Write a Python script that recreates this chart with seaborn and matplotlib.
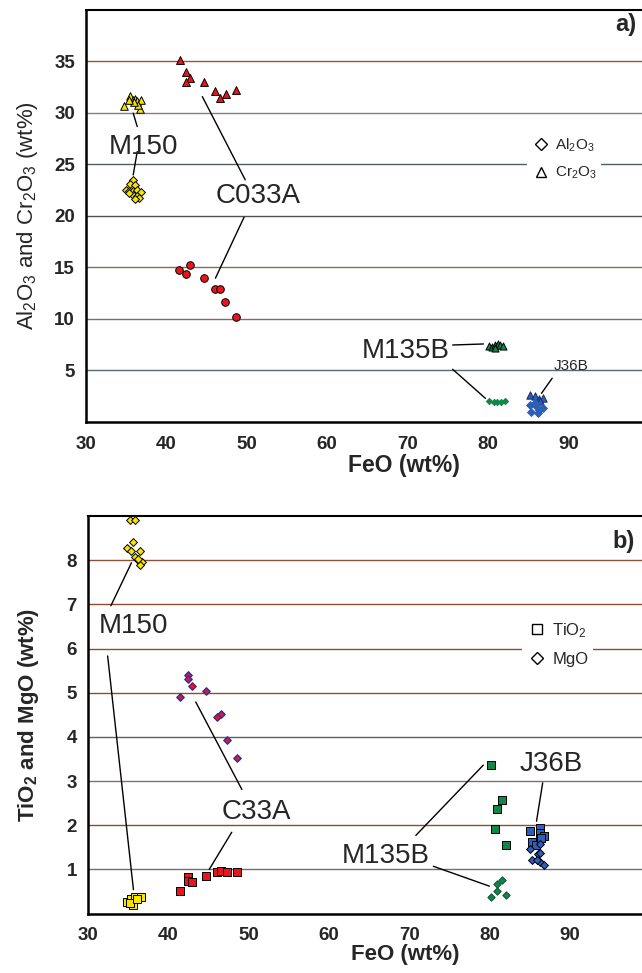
import matplotlib
matplotlib.use("Agg")
import matplotlib.pyplot as plt
import seaborn as sns
import pandas as pd
from matplotlib.lines import Line2D

# --- panel a: Al2O3 / Cr2O3 vs FeO ---
m150_cr_feo = [34.7, 35.5, 35.8, 36.1, 36.4, 36.8, 36.7, 36.5, 36.0, 35.3]
m150_cr = [30.7, 31.6, 31.3, 31.4, 31.2, 31.3, 30.4, 30.8, 31.1, 31.3]
m150_al_feo = [35.9, 35.5, 36.1, 35.0, 35.4, 35.9, 36.4, 36.8, 35.8, 36.3, 36.6, 36.1, 35.3]
m150_al = [23.5, 23.1, 23.0, 22.5, 22.4, 22.4, 22.5, 22.3, 22.0, 21.9, 21.7, 21.6, 22.2]
c033a_cr_feo = [41.7, 42.5, 42.9, 42.5, 44.7, 46.0, 46.7, 47.4, 48.7]
c033a_cr = [35.1, 34.0, 33.4, 33.0, 33.0, 32.1, 31.5, 31.8, 32.2]
c033a_al_feo = [41.6, 42.5, 42.9, 44.7, 46.0, 46.7, 47.3, 48.7]
c033a_al = [14.7, 14.4, 15.2, 14.0, 12.9, 12.9, 11.6, 10.2]
m135b_cr_feo = [80.1, 80.5, 80.9, 81.2, 81.5, 81.9, 80.9]
m135b_cr = [7.4, 7.3, 7.5, 7.6, 7.5, 7.4, 7.2]
m135b_al_feo = [80.1, 80.7, 81.1, 81.6, 82.1]
m135b_al = [2.0, 1.95, 1.95, 1.95, 2.0]
j36b_cr_feo = [85.2, 85.9, 86.3, 86.8, 86.5]
j36b_cr = [2.6, 2.5, 2.2, 2.3, 2.0]
j36b_al_feo = [85.3, 85.4, 86.0, 86.4, 86.8, 85.8, 86.2]
j36b_al = [1.6, 1.0, 1.5, 1.1, 1.3, 1.8, 0.9]

# --- panel b: TiO2 / MgO vs FeO ---
m150_mg_feo = [35.2, 35.8, 35.6, 34.8, 35.4, 36.5, 35.9, 36.4, 36.7, 36.5, 36.2]
m150_mg = [8.9, 8.9, 8.41, 8.27, 8.2, 8.2, 8.08, 7.99, 7.95, 7.88, 8.03]
m150_ti_feo = [34.8, 35.4, 35.9, 36.6, 35.6, 35.2, 36.1]
m150_ti = [0.27, 0.33, 0.37, 0.38, 0.2, 0.24, 0.32]
c33a_mg_feo = [42.4, 42.4, 42.9, 41.5, 44.7, 46.0, 46.6, 47.3, 48.6]
c33a_mg = [5.4, 5.31, 5.14, 4.9, 5.04, 4.45, 4.51, 3.92, 3.51]
c33a_ti_feo = [41.5, 42.4, 42.4, 43.0, 44.7, 46.0, 46.6, 47.3, 48.6]
c33a_ti = [0.52, 0.82, 0.73, 0.71, 0.85, 0.94, 0.96, 0.94, 0.94]
m135b_ti_feo = [80.1, 81.5, 80.9, 80.7, 82.0]
m135b_ti = [3.36, 2.57, 2.37, 1.92, 1.56]
m135b_mg_feo = [80.1, 80.9, 81.5, 80.9, 82.0]
m135b_mg = [0.38, 0.68, 0.77, 0.51, 0.41]
j36b_ti_feo = [85.0, 85.2, 86.3, 86.2, 86.7, 85.8, 86.4]
j36b_ti = [1.87, 1.62, 1.94, 1.83, 1.75, 1.56, 1.72]
j36b_mg_feo = [85.0, 85.2, 86.0, 86.2, 86.3, 86.7, 85.9, 86.3]
j36b_mg = [1.47, 1.22, 1.34, 1.36, 1.16, 1.09, 1.22, 1.58]

xticks = [30, 40, 50, 60, 70, 80, 90]
yticks_a = [5, 10, 15, 20, 25, 30, 35]
yticks_b = [1, 2, 3, 4, 5, 6, 7, 8]

yellow, red, green, blue = "#f7e400", "#e8161c", "#12864a", "#2d5fb8"

sns.set_style("white")
plt.rcParams["font.family"] = ["Liberation Sans", "DejaVu Sans"]
plt.rcParams["mathtext.default"] = "regular"

fig = plt.figure(figsize=(6.42, 9.73), dpi=100)
# the original axes run past the right edge of the picture (cropped)
ax_a = fig.add_axes([0.134, 0.5665, 0.989, 0.4232])
ax_b = fig.add_axes([0.137, 0.0611, 0.989, 0.4086])


def pts(ax, x, y, marker, color, s, edge="black", lw=0.7):
    sns.scatterplot(x=x, y=y, ax=ax, marker=marker, color=color, s=s,
                    edgecolor=edge, linewidth=lw, legend=False, zorder=3)


# panel a points
pts(ax_a, m150_cr_feo, m150_cr, "^", yellow, 30)
pts(ax_a, m150_al_feo, m150_al, "D", yellow, 16)
pts(ax_a, c033a_cr_feo, c033a_cr, "^", red, 32)
pts(ax_a, c033a_al_feo, c033a_al, "o", red, 30)
pts(ax_a, m135b_cr_feo, m135b_cr, "^", green, 26)
pts(ax_a, m135b_al_feo, m135b_al, "D", green, 10, edge=green)
pts(ax_a, j36b_cr_feo, j36b_cr, "^", blue, 28, edge="#1a2a60")
pts(ax_a, j36b_al_feo, j36b_al, "D", blue, 16, edge=blue)

# panel b points
pts(ax_b, m150_mg_feo, m150_mg, "D", yellow, 16)
pts(ax_b, m150_ti_feo, m150_ti, "s", yellow, 30)
pts(ax_b, c33a_mg_feo, c33a_mg, "D", red, 14, edge="#3a2a9a", lw=1.0)
pts(ax_b, c33a_ti_feo, c33a_ti, "s", red, 30)
pts(ax_b, m135b_ti_feo, m135b_ti, "s", green, 28)
pts(ax_b, m135b_mg_feo, m135b_mg, "D", green, 14, edge="#0a5030")
pts(ax_b, j36b_ti_feo, j36b_ti, "s", blue, 32)
pts(ax_b, j36b_mg_feo, j36b_mg, "D", blue, 16)

# sample labels and leader lines
labels_a = [("M150", 37.15, 26.7, 20), ("C033A", 51.4, 21.9, 20),
            ("M135B", 69.8, 6.9, 20), ("J36B", 90.4, 5.4, 11)]
leaders_a = [(35.87, 29.98, 36.37, 28.68), (36.37, 26.25, 35.87, 23.98),
             (44.47, 31.59, 49.81, 23.5), (49.66, 19.87, 46.1, 13.95),
             (75.62, 7.46, 79.44, 7.56), (75.62, 5.1, 79.69, 2.28),
             (88.0, 4.23, 86.67, 2.77)]
labels_b = [("M150", 35.66, 6.51, 20), ("C33A", 50.9, 2.3, 20),
            ("M135B", 67.0, 1.3, 20), ("J36B", 87.7, 3.38, 20)]
leaders_b = [(32.86, 6.97, 35.41, 7.94), (32.45, 5.83, 35.66, 0.54),
             (43.41, 4.79, 49.15, 2.81), (47.89, 1.84, 45.09, 1.0),
             (70.8, 1.77, 79.19, 3.36), (72.97, 1.07, 79.95, 0.62),
             (86.58, 2.96, 85.81, 2.09)]

grid_a = ["#5a6a6a", "#8a6a60", "#8a6a60", "#505050", "#506060", "#8a7f78", "#a0503c"]
grid_b = ["#707070", "#904a30", "#807070", "#606060", "#904a30", "#904a30", "#904a30", "#8a5040"]

for ax, ylim, yt, gcols, labels, leaders in [
        (ax_a, (0, 40), yticks_a, grid_a, labels_a, leaders_a),
        (ax_b, (0, 9), yticks_b, grid_b, labels_b, leaders_b)]:
    ax.set_xlim(30, 109)
    ax.set_ylim(*ylim)
    ax.set_xticks(xticks)
    ax.set_yticks(yt)
    for v, c in zip(yt, gcols):
        ax.axhline(v, color=c, lw=1.0, zorder=1)
    for t, x, y, fs in labels:
        ax.text(x, y, t, fontsize=fs, ha="center", va="center", zorder=4)
    for x0, y0, x1, y1 in leaders:
        ax.plot([x0, x1], [y0, y1], color="black", lw=1.0, zorder=2)
    ax.tick_params(axis="x", direction="in", length=7, width=1.2, pad=10,
                   labelsize=13.5, top=False)
    ax.tick_params(axis="y", length=0, pad=8, labelsize=13.5)
    for lab in ax.get_xticklabels() + ax.get_yticklabels():
        lab.set_fontweight("bold")
    ax.spines["right"].set_visible(False)
    for sp in ["left", "bottom"]:
        ax.spines[sp].set_linewidth(1.8)
    ax.spines["top"].set_linewidth(1.5)
    for sp in ["left", "bottom", "top"]:
        ax.spines[sp].set_color("black")

ax_a.set_xlabel("FeO (wt%)", fontsize=16.5, fontweight="bold", labelpad=1)
ax_b.set_xlabel("FeO (wt%)", fontsize=16, fontweight="bold", labelpad=0)
ax_a.set_ylabel("Al$_2$O$_3$ and Cr$_2$O$_3$ (wt%)", fontsize=16, labelpad=10)
ax_b.set_ylabel("TiO$_2$ and MgO (wt%)", fontsize=16, fontweight="bold", labelpad=18)

ax_a.text(0.850, 0.964, "a)", transform=ax_a.transAxes, fontsize=17,
          fontweight="bold", ha="center", va="center")
ax_b.text(0.844, 0.935, "b)", transform=ax_b.transAxes, fontsize=17,
          fontweight="bold", ha="center", va="center")

# legends
h_a = [Line2D([], [], ls="", marker="D", ms=6, mfc="white", mec="black", mew=1.0),
       Line2D([], [], ls="", marker="^", ms=7, mfc="white", mec="black", mew=1.0)]
leg = ax_a.legend(h_a, ["Al$_2$O$_3$", "Cr$_2$O$_3$"], loc="center",
                  bbox_to_anchor=(0.753, 0.638), frameon=True, fontsize=11,
                  handletextpad=0.3, labelspacing=0.7, borderpad=0.3, handlelength=1.2)
leg.get_frame().set_facecolor("white")
leg.get_frame().set_edgecolor("none")
leg.get_frame().set_alpha(1)
leg.set_zorder(5)

h_b = [Line2D([], [], ls="", marker="s", ms=7, mfc="white", mec="black", mew=1.0),
       Line2D([], [], ls="", marker="D", ms=6, mfc="white", mec="black", mew=1.0)]
leg = ax_b.legend(h_b, ["TiO$_2$", "MgO"], loc="center",
                  bbox_to_anchor=(0.740, 0.678), frameon=True, fontsize=12,
                  handletextpad=0.3, labelspacing=0.7, borderpad=0.3, handlelength=1.2)
leg.get_frame().set_facecolor("white")
leg.get_frame().set_edgecolor("none")
leg.get_frame().set_alpha(1)
leg.set_zorder(5)

fig.savefig("out.png", dpi=100)
